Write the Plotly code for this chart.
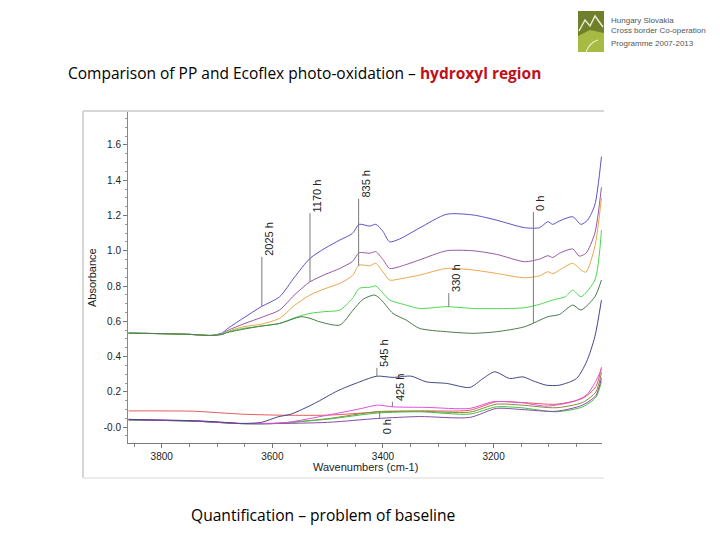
import numpy as np
import plotly.graph_objects as go

# ---------------- data ----------------
# PP (upper group)
pp_blue_x = [3860, 3800, 3750, 3710, 3690, 3683, 3653, 3620, 3587, 3560, 3532, 3505, 3478, 3455, 3443, 3424, 3413, 3400, 3388, 3370, 3334, 3285, 3237, 3195, 3144, 3117, 3102, 3093, 3081, 3057, 3042, 3030, 3017, 3005]
pp_blue_y = [0.533, 0.530, 0.526, 0.520, 0.535, 0.554, 0.617, 0.683, 0.739, 0.850, 0.957, 1.014, 1.061, 1.099, 1.150, 1.140, 1.150, 1.110, 1.051, 1.067, 1.129, 1.207, 1.203, 1.174, 1.131, 1.131, 1.165, 1.150, 1.169, 1.193, 1.150, 1.174, 1.260, 1.534]

pp_purple_x = [3860, 3800, 3750, 3710, 3690, 3683, 3653, 3620, 3587, 3560, 3532, 3505, 3478, 3455, 3443, 3424, 3413, 3400, 3388, 3370, 3334, 3285, 3237, 3195, 3144, 3117, 3102, 3093, 3081, 3057, 3045, 3033, 3017, 3005]
pp_purple_y = [0.533, 0.530, 0.526, 0.520, 0.530, 0.545, 0.584, 0.622, 0.664, 0.750, 0.824, 0.865, 0.900, 0.940, 0.989, 0.986, 0.995, 0.950, 0.900, 0.910, 0.948, 1.000, 1.000, 0.980, 0.938, 0.953, 0.972, 0.962, 0.986, 1.010, 0.970, 0.986, 1.099, 1.360]

pp_orange_x = [3860, 3800, 3750, 3710, 3690, 3683, 3653, 3620, 3587, 3560, 3532, 3505, 3478, 3455, 3443, 3424, 3413, 3400, 3388, 3370, 3334, 3285, 3237, 3195, 3144, 3117, 3102, 3093, 3081, 3057, 3042, 3033, 3017, 3005]
pp_orange_y = [0.533, 0.530, 0.526, 0.520, 0.528, 0.540, 0.569, 0.584, 0.617, 0.690, 0.749, 0.785, 0.815, 0.860, 0.919, 0.915, 0.929, 0.880, 0.834, 0.840, 0.862, 0.900, 0.891, 0.872, 0.847, 0.858, 0.881, 0.870, 0.890, 0.929, 0.891, 0.879, 1.023, 1.300]

pp_lgreen_x = [3860, 3800, 3750, 3710, 3690, 3683, 3653, 3620, 3587, 3560, 3532, 3505, 3478, 3455, 3443, 3424, 3413, 3400, 3388, 3358, 3334, 3285, 3237, 3195, 3144, 3117, 3093, 3070, 3057, 3042, 3017, 3005]
pp_lgreen_y = [0.533, 0.530, 0.526, 0.520, 0.527, 0.538, 0.560, 0.573, 0.588, 0.620, 0.645, 0.655, 0.664, 0.730, 0.787, 0.793, 0.800, 0.760, 0.721, 0.692, 0.673, 0.683, 0.673, 0.672, 0.677, 0.696, 0.721, 0.740, 0.777, 0.740, 0.834, 1.118]

pp_dgreen_x = [3860, 3800, 3750, 3710, 3690, 3683, 3653, 3620, 3587, 3548, 3532, 3514, 3478, 3454, 3436, 3415, 3403, 3382, 3358, 3334, 3285, 3237, 3195, 3144, 3102, 3081, 3057, 3042, 3017, 3005]
pp_dgreen_y = [0.533, 0.530, 0.526, 0.520, 0.526, 0.535, 0.555, 0.573, 0.588, 0.626, 0.617, 0.597, 0.579, 0.664, 0.725, 0.749, 0.721, 0.645, 0.607, 0.560, 0.541, 0.532, 0.541, 0.569, 0.626, 0.639, 0.692, 0.664, 0.739, 0.834]

# Ecoflex (lower group)
ec_navy_x = [3860, 3800, 3741, 3700, 3657, 3620, 3590, 3566, 3524, 3482, 3442, 3411, 3382, 3349, 3322, 3285, 3243, 3219, 3198, 3171, 3147, 3129, 3105, 3081, 3050, 3032, 3017, 3005]
ec_navy_y = [0.044, 0.040, 0.036, 0.030, 0.021, 0.027, 0.058, 0.074, 0.134, 0.206, 0.257, 0.289, 0.282, 0.289, 0.257, 0.248, 0.225, 0.276, 0.314, 0.276, 0.285, 0.263, 0.238, 0.238, 0.276, 0.370, 0.512, 0.720]

ec_magenta_x = [3860, 3800, 3741, 3657, 3600, 3572, 3500, 3440, 3410, 3382, 3322, 3243, 3201, 3148, 3105, 3057, 3032, 3014, 3005]
ec_magenta_y = [0.044, 0.040, 0.036, 0.021, 0.022, 0.027, 0.068, 0.105, 0.125, 0.115, 0.112, 0.106, 0.144, 0.138, 0.119, 0.144, 0.182, 0.267, 0.330]

ec_red_x = [3860, 3800, 3741, 3657, 3590, 3500, 3410, 3334, 3243, 3195, 3150, 3087, 3039, 3015, 3005]
ec_red_y = [0.092, 0.092, 0.090, 0.074, 0.068, 0.068, 0.085, 0.092, 0.096, 0.144, 0.140, 0.130, 0.163, 0.230, 0.340]

ec_olive_x = [3860, 3800, 3741, 3657, 3600, 3500, 3410, 3334, 3243, 3195, 3150, 3087, 3039, 3015, 3005]
ec_olive_y = [0.040, 0.038, 0.034, 0.020, 0.020, 0.048, 0.088, 0.090, 0.085, 0.130, 0.125, 0.110, 0.140, 0.200, 0.310]

ec_green_x = [3860, 3800, 3741, 3657, 3600, 3500, 3410, 3334, 3243, 3195, 3150, 3087, 3039, 3015, 3005]
ec_green_y = [0.042, 0.038, 0.034, 0.020, 0.020, 0.045, 0.080, 0.087, 0.074, 0.115, 0.110, 0.087, 0.115, 0.170, 0.260]

ec_purple_x = [3860, 3800, 3741, 3657, 3600, 3500, 3410, 3334, 3243, 3195, 3150, 3087, 3039, 3015, 3005]
ec_purple_y = [0.042, 0.038, 0.034, 0.020, 0.020, 0.027, 0.049, 0.060, 0.055, 0.106, 0.100, 0.090, 0.125, 0.180, 0.280]

# labels: text, wavenumber of leader, end of leader (absorbance), curve pointed at
label_text = ["2025 h", "1170 h", "835 h", "330 h", "0 h", "545 h", "425 h", "0 h"]
label_wn = [3619, 3532, 3444, 3281, 3128, 3411, 3383, 3406]
label_end = [0.965, 1.214, 1.294, 0.760, 1.220, 0.335, 0.144, 0.051]
label_curve = ["pp_blue", "pp_purple", "pp_orange", "pp_lgreen", "pp_dgreen", "ec_navy", "ec_magenta", "ec_olive"]

y_tick_vals = [0.0, 0.2, 0.4, 0.6, 0.8, 1.0, 1.2, 1.4, 1.6]
y_tick_text = ["-0.0", "0.2", "0.4", "0.6", "0.8", "1.0", "1.2", "1.4", "1.6"]
x_tick_vals = [3800, 3600, 3400, 3200]
x_tick_text = ["3800", "3600", "3400", "3200"]

series = {
    "pp_blue": (pp_blue_x, pp_blue_y, "#5a52c8"),
    "pp_purple": (pp_purple_x, pp_purple_y, "#9a55a8"),
    "pp_orange": (pp_orange_x, pp_orange_y, "#eba64a"),
    "pp_lgreen": (pp_lgreen_x, pp_lgreen_y, "#4ed84e"),
    "pp_dgreen": (pp_dgreen_x, pp_dgreen_y, "#4a7a4a"),
    "ec_red": (ec_red_x, ec_red_y, "#e85a5a"),
    "ec_olive": (ec_olive_x, ec_olive_y, "#8a8a3a"),
    "ec_green": (ec_green_x, ec_green_y, "#44c044"),
    "ec_purple": (ec_purple_x, ec_purple_y, "#8a4aa8"),
    "ec_magenta": (ec_magenta_x, ec_magenta_y, "#e050e0"),
    "ec_navy": (ec_navy_x, ec_navy_y, "#45458a"),
}

# ---------------- figure ----------------
W, H = 720, 540
L, R, T, B = 128, 602, 112, 443  # plot area in pixels


def px(p):
    return (p - L) / (R - L)


def py(q):
    return (B - q) / (B - T)


fig = go.Figure()
for name, (xs, ys, col) in series.items():
    fig.add_trace(go.Scatter(x=xs, y=ys, mode="lines", name=name,
                             line=dict(color=col, width=1, shape="spline", smoothing=0.7),
                             hoverinfo="skip"))

shapes = []
annotations = []
for txt, wn, yend, cname in zip(label_text, label_wn, label_end, label_curve):
    xs, ys, _ = series[cname]
    ycurve = float(np.interp(wn, xs[::-1], ys[::-1]))
    shapes.append(dict(type="line", xref="x", yref="y", x0=wn, x1=wn,
                       y0=ycurve, y1=yend, line=dict(color="#7a7a7a", width=1)))
    above = yend > ycurve
    annotations.append(dict(x=wn, y=yend, xref="x", yref="y", text=txt,
                            textangle=-90, showarrow=False,
                            xanchor="left", yanchor="bottom" if above else "top",
                            xshift=0, borderpad=0,
                            font=dict(family="Liberation Sans, Arial", size=11, color="#222")))

# chart picture frame (left, top, bottom edges)
frame_col = "#c8c8c8"
shapes.append(dict(type="line", xref="paper", yref="paper", x0=px(83), x1=px(83), y0=py(111), y1=py(478), line=dict(color=frame_col, width=1.5)))
shapes.append(dict(type="line", xref="paper", yref="paper", x0=px(83), x1=px(604), y0=py(111), y1=py(111), line=dict(color=frame_col, width=1.5)))
shapes.append(dict(type="line", xref="paper", yref="paper", x0=px(83), x1=px(604), y0=py(478), y1=py(478), line=dict(color="#e6e6e6", width=1.5)))

# logo
shapes.append(dict(type="rect", xref="paper", yref="paper", x0=px(578), x1=px(604), y0=py(52), y1=py(11),
                   fillcolor="#6f7f2c", line=dict(width=0)))
shapes.append(dict(type="path", xref="paper", yref="paper",
                   path=f"M {px(578)},{py(52)} L {px(578)},{py(36)} L {px(590)},{py(30)} L {px(604)},{py(33)} L {px(604)},{py(52)} Z",
                   fillcolor="#a7bb44", line=dict(width=0)))
shapes.append(dict(type="path", xref="paper", yref="paper",
                   path=f"M {px(579)},{py(31)} L {px(585)},{py(20)} L {px(590)},{py(26)} L {px(595)},{py(16)} L {px(603)},{py(27)}",
                   line=dict(color="#e8eccc", width=1.5)))
shapes.append(dict(type="path", xref="paper", yref="paper",
                   path=f"M {px(586)},{py(52)} Q {px(590)},{py(42)} {px(598)},{py(40)}",
                   line=dict(color="#e8eccc", width=1.2)))

logo_font = dict(family="Liberation Sans, Arial", size=8, color="#555")
for txt, yy in [("Hungary Slovakia", 20), ("Cross border Co-operation", 31), ("Programme 2007-2013", 43)]:
    annotations.append(dict(x=px(609), y=py(yy), xref="paper", yref="paper", text=txt,
                            showarrow=False, xanchor="left", yanchor="middle", font=logo_font))

# slide title and caption
annotations.append(dict(x=px(66), y=py(73), xref="paper", yref="paper",
                        text="Comparison of PP and Ecoflex photo-oxidation – <b><span style='color:#c0101a'>hydroxyl region</span></b>",
                        showarrow=False, xanchor="left", yanchor="middle",
                        font=dict(family="Open Sans", size=15.5, color="#000")))
annotations.append(dict(x=px(189), y=py(515), xref="paper", yref="paper",
                        text="Quantification – problem of baseline",
                        showarrow=False, xanchor="left", yanchor="middle",
                        font=dict(family="Open Sans", size=15.6, color="#000")))

# axis titles
annotations.append(dict(x=px(92), y=py(278), xref="paper", yref="paper", text="Absorbance",
                        textangle=-90, showarrow=False, xanchor="center", yanchor="middle",
                        font=dict(family="Liberation Sans, Arial", size=11, color="#222")))
annotations.append(dict(x=px(365), y=py(467), xref="paper", yref="paper", text="Wavenumbers (cm-1)",
                        showarrow=False, xanchor="center", yanchor="middle",
                        font=dict(family="Liberation Sans, Arial", size=11, color="#222")))

fig.update_layout(
    width=W, height=H,
    margin=dict(l=L, r=W - R, t=T, b=H - B, pad=0),
    paper_bgcolor="white", plot_bgcolor="white",
    showlegend=False,
    shapes=shapes, annotations=annotations,
    xaxis=dict(range=[3861, 3004], showgrid=False, zeroline=False,
               showline=True, linecolor="#777", linewidth=1,
               ticks="outside", ticklen=4, tickcolor="#777",
               tickvals=x_tick_vals, ticktext=x_tick_text,
               tickfont=dict(family="Liberation Sans, Arial", size=10, color="#222"),
               minor=dict(dtick=50, ticks="outside", ticklen=3, tickcolor="#888", showgrid=False)),
    yaxis=dict(range=[-0.09, 1.787], showgrid=False, zeroline=False,
               showline=True, linecolor="#888", linewidth=1,
               ticks="outside", ticklen=4, tickcolor="#777",
               tickvals=y_tick_vals, ticktext=y_tick_text,
               tickfont=dict(family="Liberation Sans, Arial", size=10, color="#222"),
               minor=dict(dtick=0.05, ticks="outside", ticklen=2, tickcolor="#999", showgrid=False)),
)

fig.write_html("out.html")
